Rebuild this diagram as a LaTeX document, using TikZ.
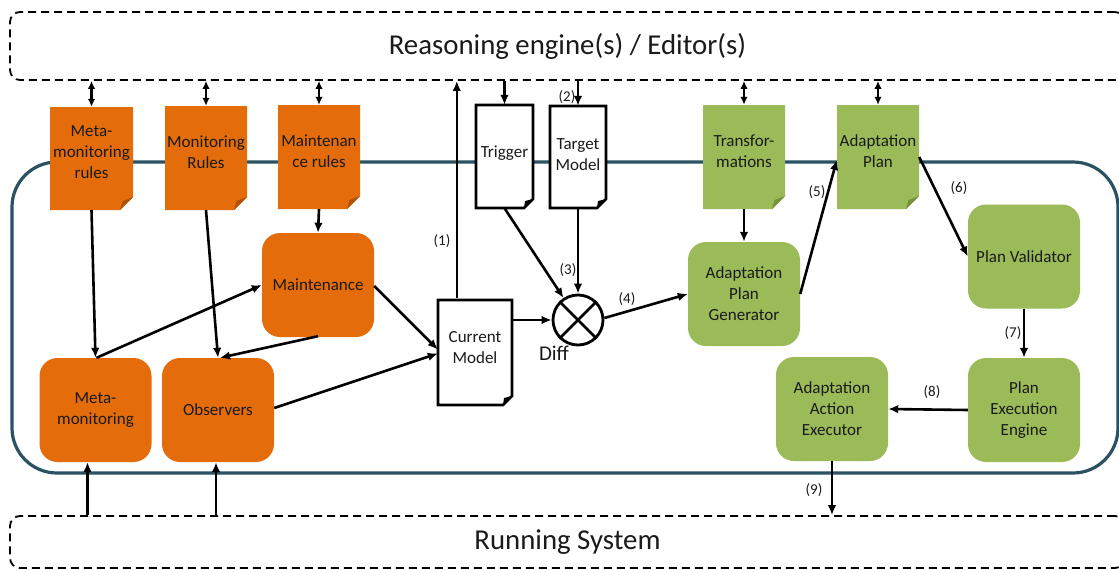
\documentclass[tikz,border=0pt]{standalone}
\usepackage{fontspec}
\setmainfont{Carlito}
\usetikzlibrary{arrows.meta,calc}
\definecolor{orng}{HTML}{E46C0A}
\definecolor{orngd}{HTML}{B05208}
\definecolor{grn}{HTML}{9BBB59}
\definecolor{grnd}{HTML}{76923C}
\definecolor{frameteal}{HTML}{2A5263}
\definecolor{txt}{HTML}{1A1A1A}
\tikzset{
  arr/.style={line width=2.6pt,-{Latex[length=10pt,width=8.5pt]}},
  darr/.style={line width=2.6pt,{Latex[length=8pt,width=7.5pt]}-{Latex[length=8pt,width=7.5pt]}},
  dashbox/.style={draw,dashed,dash pattern=on 8pt off 5pt,line width=1.8pt,rounded corners=10pt,inner sep=0pt},
  bigtxt/.style={font=\fontsize{28.8}{34}\selectfont,text=txt},
  boxtxt/.style={font=\fontsize{17}{21}\selectfont,text=txt,align=center},
  lbl/.style={font=\fontsize{15}{17}\selectfont,text=txt,inner sep=0pt},
  obox/.style={boxtxt,fill=orng,rounded corners=18pt,minimum width=112pt,minimum height=104pt,inner sep=0pt},
  gbox/.style={boxtxt,fill=grn,rounded corners=18pt,minimum width=112pt,minimum height=104pt,inner sep=0pt},
  shapenode/.style={inner sep=0pt},
}
% colored document: name, x0, y0, x1, y1, fill, fold, text
\newcommand\cdoc[8]{%
  \fill[#6] (#2,#3) -- (#4,#3) -- (#4,#5-13) -- (#4-13,#5) -- (#2,#5) -- cycle;
  \fill[#7] (#4,#5-13) -- (#4-13,#5) -- (#4-10.5,#5-9) -- cycle;
  \node[shapenode,minimum width={#4-#2},minimum height={#5-#3}] (#1) at ({(#2+#4)/2},{(#3+#5)/2}) {};
  \node[boxtxt] (#1t) at ({(#2+#4)/2},{(#3+#5)/2-6}) {#8};
}
% white document: name, x0, y0, x1, y1, text, text offset
\newcommand\wdoc[7]{%
  \filldraw[fill=white,draw=black,line width=2.8pt,line join=miter] (#2,#3) -- (#4,#3) -- (#4,#5-9) -- (#4-9,#5) -- (#2,#5) -- cycle;
  \fill[black] (#4,#5-9) -- (#4-9,#5) -- (#4-8,#5-7) -- cycle;
  \node[shapenode,minimum width={#4-#2},minimum height={#5-#3}] (#1) at ({(#2+#4)/2},{(#3+#5)/2}) {};
  \node[boxtxt] (#1t) at ({(#2+#4)/2},{(#3+#5)/2-#7}) {#6};
}
\begin{document}
\begin{tikzpicture}[x=1pt,y=-1pt]
\useasboundingbox (0,0) rectangle (1119,570);
\clip (0,0) rectangle (1119,570);
\fill[white] (0,0) rectangle (1119,570);

% outer boxes
\node[dashbox,bigtxt,minimum width=1115pt,minimum height=68pt] (reason) at (567.5,46) {Reasoning engine(s) / Editor(s)};
\node[dashbox,bigtxt,minimum width=1115pt,minimum height=52pt] (run) at (567.5,542) {Running System};
\node[draw=frameteal,line width=3.2pt,rounded corners=45pt,minimum width=1106pt,minimum height=311pt,inner sep=0pt] (frame) at (565,317.5) {};

% documents
\cdoc{mmr}{50}{107}{133}{210}{orng}{orngd}{Meta-\\monitoring\\rules}
\cdoc{mrules}{165}{106}{247}{210}{orng}{orngd}{Monitoring\\Rules}
\cdoc{mtrules}{278}{105}{360}{209}{orng}{orngd}{Maintenan\\ce rules}
\cdoc{trans}{703}{105}{785}{209}{grn}{grnd}{Transfor-\\mations}
\cdoc{aplan}{837}{105}{919}{209}{grn}{grnd}{Adaptation\\Plan}
\wdoc{trig}{476}{105}{533}{208}{Trigger}{3}
\wdoc{tgt}{550}{106}{606}{208}{Target\\Model}{2}
\wdoc{cur}{438}{300}{512}{405}{Current\\Model}{5}

% rounded boxes
\node[obox] (maint) at (318,285) {Maintenance};
\node[obox] (metam) at (95.5,410) {Meta-\\monitoring};
\node[obox] (obs) at (218,410) {Observers};
\node[gbox] (apg) at (744,294) {Adaptation\\Plan\\Generator};
\node[gbox] (pval) at (1024,256.5) {Plan Validator};
\node[gbox] (pee) at (1024,410) {Plan\\Execution\\Engine};
\node[gbox] (aae) at (832,409) {Adaptation\\Action\\Executor};

% diff
\node[draw,circle,line width=2.8pt,minimum size=50pt,inner sep=0pt] (diff) at (578,320) {};
\draw[line width=2.8pt] (diff.north west) -- (diff.south east) (diff.north east) -- (diff.south west);
\node[font=\fontsize{21}{25}\selectfont,text=txt] (difflbl) at (554,353) {Diff};

% links to reasoning engine
\draw[darr] (mmr.north |- reason.south) -- (mmr.north);
\draw[darr] (mrules.north |- reason.south) -- (mrules.north);
\draw[darr] (mtrules.north |- reason.south) -- (mtrules.north);
\draw[darr] (trans.north |- reason.south) -- (trans.north);
\draw[darr] (aplan.north |- reason.south) -- (aplan.north);
\draw[arr] (trig.north |- reason.south) -- (trig.north);
\draw[arr] (tgt.north |- reason.south) -- (tgt.north);
\node[lbl] (l2) at (567,97) {(2)};
\draw[arr] ([xshift=19pt,yshift=2pt]cur.north west) -- ([xshift=19pt]cur.north west |- reason.south);
\node[lbl] (l1) at (442,241) {(1)};

% monitoring side
\draw[arr] (mmr.south) -- (metam.north);
\draw[arr] (mrules.south) -- (obs.north);
\draw[arr] (mtrules.south) -- (maint.north);
\draw[arr] ([xshift=1pt]metam.north) -- (maint.west);
\draw[arr] ([yshift=1pt]maint.south) -- ([xshift=2pt]obs.north);
\draw[arr] ([yshift=-1pt]maint.east) -- ([yshift=3pt]cur.west);
\draw[arr] ([yshift=2pt]obs.east) -- ([yshift=-1pt]cur.west);
\draw[arr] ([xshift=-8pt]metam.south |- run.north) -- ([xshift=-8pt]metam.south);
\draw[arr] ([xshift=-2pt]obs.south |- run.north) -- ([xshift=-2pt]obs.south);

% diff side
\draw[arr] (trig.south) -- (diff);
\draw[arr] (tgt.south) -- (diff.north);
\node[lbl] (l3) at (568,270) {(3)};
\draw[arr] (cur.east |- diff.west) -- (diff.west);
\draw[arr] ([yshift=2pt]diff.east) -- (apg.west);
\node[lbl] (l4) at (627,299) {(4)};

% adaptation side
\draw[arr] (trans.south) -- (apg.north);
\draw[arr] (apg.east) -- ([yshift=-3pt]aplan.west);
\node[lbl] (l5) at (817,192) {(5)};
\draw[arr] (aplan.east) -- (pval.west);
\node[lbl] (l6) at (959,188) {(6)};
\draw[arr] (pval.south) -- (pee.north);
\node[lbl] (l7) at (1013,333) {(7)};
\draw[arr] (pee.west) -- (aae.east);
\node[lbl] (l8) at (932,392) {(8)};
\draw[arr] (aae.south) -- (aae.south |- run.north);
\node[lbl] (l9) at (814,490) {(9)};
\end{tikzpicture}
\end{document}
